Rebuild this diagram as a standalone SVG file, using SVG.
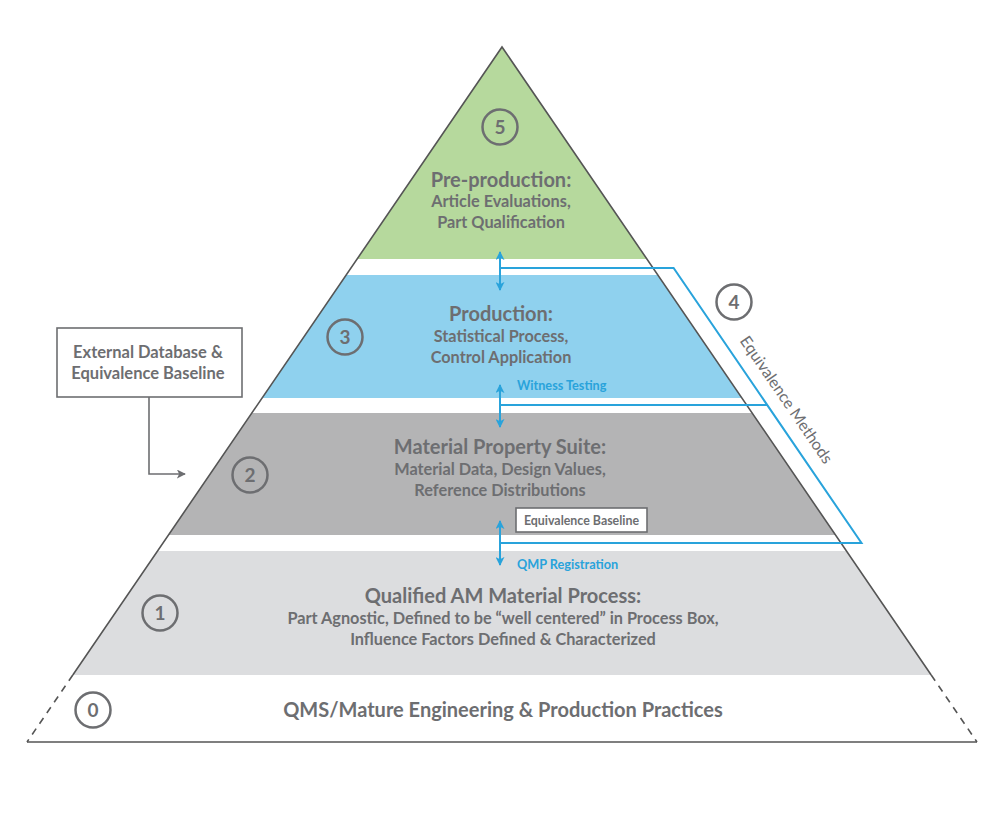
<svg xmlns="http://www.w3.org/2000/svg" width="1000" height="813" viewBox="0 0 1000 813">
<defs>
<style>
.t{font-family:Lato,"Open Sans","Liberation Sans",sans-serif;fill:#6d6e71;font-weight:700;text-anchor:middle}
.h{font-size:20px}
.s{font-size:16.3px}
.num{font-family:Lato,"Open Sans","Liberation Sans",sans-serif;fill:#6d6e71;font-weight:700;font-size:19px;text-anchor:middle}
.ring{fill:none;stroke:#6d6e71;stroke-width:2.5}
.blue{font-family:Lato,"Open Sans","Liberation Sans",sans-serif;fill:#29a3db;font-weight:700;font-size:12.7px}
.bl{fill:none;stroke:#29a3db;stroke-width:2}
.edge{fill:none;stroke:#555;stroke-width:1.6}
</style>
<marker id="ba" viewBox="0 0 10 10" refX="9" refY="5" markerWidth="9" markerHeight="9" markerUnits="userSpaceOnUse" orient="auto-start-reverse">
<path d="M0,0 L10,5 L0,10 L2.5,5 z" fill="#29a3db"/>
</marker>
<marker id="ga" viewBox="0 0 10 10" refX="9" refY="5" markerWidth="9" markerHeight="9" markerUnits="userSpaceOnUse" orient="auto">
<path d="M0,0 L10,5 L0,10 L2.5,5 z" fill="#6d6e71"/>
</marker>
</defs>
<rect width="1000" height="813" fill="#fff"/>

<g id="level5">
<polygon points="502,47 357.1,259 646.9,259" fill="#b6d99d"/>
<circle class="ring" cx="500" cy="127" r="17.5"/>
<text class="num" x="500" y="134">5</text>
<text class="t h" x="501" y="187">Pre-production:</text>
<text class="t s" x="501" y="207">Article Evaluations,</text>
<text class="t s" x="501" y="228">Part Qualification</text>
</g>

<g id="level3">
<polygon points="346.2,275 657.8,275 741.9,398 262.1,398" fill="#8fd1ee"/>
<circle class="ring" cx="345" cy="337" r="17.5"/>
<text class="num" x="345" y="344">3</text>
<text class="t h" x="501" y="321">Production:</text>
<text class="t s" x="501" y="342">Statistical Process,</text>
<text class="t s" x="501" y="363">Control Application</text>
</g>

<g id="level2">
<polygon points="251.8,413 752.2,413 835.5,535 168.5,535" fill="#b4b4b5"/>
<circle class="ring" cx="250" cy="475" r="17.5"/>
<text class="num" x="250" y="482">2</text>
<text class="t h" x="500" y="454">Material Property Suite:</text>
<text class="t s" x="500" y="475">Material Data, Design Values,</text>
<text class="t s" x="500" y="496">Reference Distributions</text>
</g>

<g id="level1">
<polygon points="157.5,551 846.5,551 931.2,675 72.8,675" fill="#dcdddf"/>
<circle class="ring" cx="160" cy="613" r="17.5"/>
<text class="num" x="160" y="620">1</text>
<text class="t h" x="503" y="603">Qualified AM Material Process:</text>
<text class="t s" x="503" y="624">Part Agnostic, Defined to be “well centered” in Process Box,</text>
<text class="t s" x="503" y="645">Influence Factors Defined &amp; Characterized</text>
</g>

<g id="level0">
<circle class="ring" cx="93" cy="710" r="17.5"/>
<text class="num" x="93" y="717">0</text>
<text class="t h" x="503" y="717">QMS/Mature Engineering &amp; Production Practices</text>
</g>

<g id="outline">
<polyline class="edge" points="72.8,675 502,47 931.2,675"/>
<line class="edge" x1="72.8" y1="675" x2="27" y2="742" stroke-dasharray="7,6"/>
<line class="edge" x1="931.2" y1="675" x2="977" y2="742" stroke-dasharray="7,6"/>
<line class="edge" x1="27" y1="742" x2="977" y2="742"/>
</g>

<g id="level4">
<circle class="ring" cx="734" cy="302" r="17.5"/>
<text class="num" x="734" y="309">4</text>
<text class="t" style="font-size:16px;font-weight:400" transform="translate(786,400) rotate(55.6)" x="0" y="5">Equivalence Methods</text>
</g>

<g id="external">
<rect x="57" y="328" width="185" height="69" fill="#fff" stroke="#6d6e71" stroke-width="1.6"/>
<text class="t" style="font-size:16.5px" x="148" y="358">External Database &amp;</text>
<text class="t" style="font-size:16.5px" x="148" y="379">Equivalence Baseline</text>
</g>

<g id="baseline">
<rect x="516" y="508" width="131" height="24" fill="#fff" stroke="#6d6e71" stroke-width="1.6"/>
<text class="t" style="font-size:12.4px" x="581.5" y="524.5">Equivalence Baseline</text>
</g>

<g id="connectors">
<polyline points="149,397 149,474 185,474" fill="none" stroke="#6d6e71" stroke-width="1.6" marker-end="url(#ga)"/>
<polyline class="bl" points="500,268 673.6,268 861.5,543 500,543"/>
<line class="bl" x1="500" y1="405" x2="767.2" y2="405"/>
<line class="bl" x1="500" y1="252" x2="500" y2="290" marker-start="url(#ba)" marker-end="url(#ba)"/>
<line class="bl" x1="500" y1="385" x2="500" y2="427" marker-start="url(#ba)" marker-end="url(#ba)"/>
<line class="bl" x1="500" y1="521" x2="500" y2="565" marker-start="url(#ba)" marker-end="url(#ba)"/>
<text class="blue" x="517" y="390">Witness Testing</text>
<text class="blue" x="517" y="569">QMP Registration</text>
</g>
</svg>
